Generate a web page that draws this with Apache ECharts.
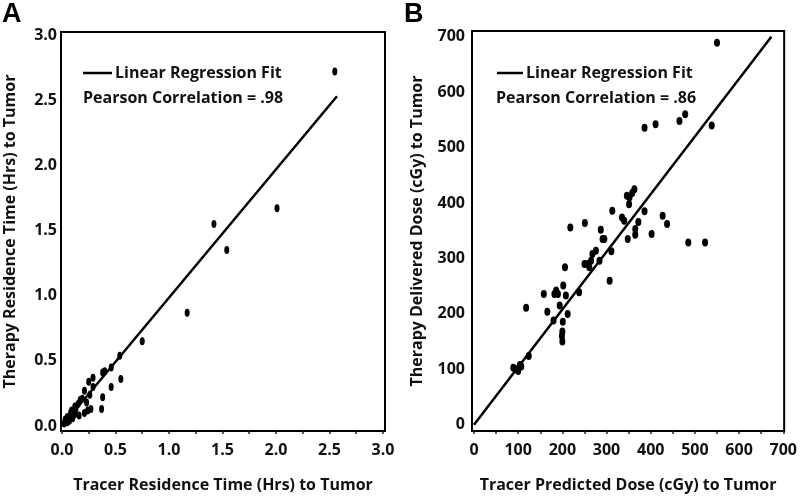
<!DOCTYPE html>
<html>
<head>
<meta charset="utf-8">
<script src="https://cdn.jsdelivr.net/npm/echarts@6/dist/echarts.min.js"></script>
<style>
html,body{margin:0;padding:0;background:#fff;}
#chart{width:800px;height:498px;}
</style>
</head>
<body>
<div id="chart"></div>
<script>
// ---- Panel A data: residence time (Hrs)
const tracerA  = [2.55,2.01,1.42,1.54,1.17,0.75,0.54,0.55,0.46,0.46,0.38,0.38,0.37,0.29,0.25,0.29,0.27,0.24,0.21,0.19,0.17,0.21,0.23,0.15,0.13,0.12,0.16,0.10,0.09,0.07,0.05,0.03,0.02,0.08,0.11,0.26,0.05,0.40,0.12];
const therapyA = [2.72,1.67,1.55,1.35,0.87,0.65,0.54,0.36,0.45,0.30,0.41,0.22,0.13,0.37,0.34,0.30,0.13,0.12,0.27,0.21,0.20,0.10,0.18,0.17,0.13,0.09,0.08,0.06,0.12,0.04,0.03,0.05,0.02,0.10,0.11,0.24,0.07,0.42,0.15];
const fitA_x = [0, 2.57];
const fitA_y = [0, 2.53];
const ticksA = [0,0.5,1.0,1.5,2.0,2.5,3.0];
const minorTicksA = [0,0.25,0.5,0.75,1.0,1.25,1.5,1.75,2.0,2.25,2.5,2.75,3.0];

// ---- Panel B data: dose (cGy)
const tracerB  = [550,538,478,465,411,386,485,523,437,427,402,386,372,363,358,352,346,351,365,365,348,335,340,313,311,307,295,287,291,284,276,268,265,261,257,251,250,218,206,202,208,212,201,194,200,200,199,186,182,180,166,158,238,118,124,107,100,89,96,104,190];
const therapyB = [689,540,560,548,542,536,329,329,362,377,344,385,366,425,418,410,413,398,353,343,335,374,368,386,313,260,335,352,335,296,314,308,296,284,290,364,290,356,284,251,233,200,186,215,168,150,160,242,236,188,204,236,239,211,124,105,97,103,100,108,236];
const fitB_x = [0, 673];
const fitB_y = [0, 700];
const ticksB = [0,100,200,300,400,500,600,700];
const minorTicksB = [0,50,100,150,200,250,300,350,400,450,500,550,600,650,700];

// ---- Text
const titles = {
  a: 'A', b: 'B',
  axA_x: 'Tracer Residence Time (Hrs) to Tumor',
  axA_y: 'Therapy Residence Time (Hrs) to Tumor',
  axB_x: 'Tracer Predicted Dose (cGy) to Tumor',
  axB_y: 'Therapy Delivered Dose (cGy) to Tumor',
  fit: 'Linear Regression Fit',
  corrA: 'Pearson Correlation = .98',
  corrB: 'Pearson Correlation = .86'
};

const FONT = '"Open Sans", "Noto Sans", sans-serif';
const labelStyle = {color:'#111', fontFamily:FONT, fontWeight:700, fontSize:16};
const nameStyle = {color:'#111', fontFamily:FONT, fontWeight:700, fontSize:16};
const LEGFONT = '700 16px "Open Sans", sans-serif';

function zip(xs, ys){ return xs.map((x,i)=>[x, ys[i]]); }

function xAxis(idx, min, max, ticks, minor, fmt, name){
  return {
    type:'value', gridIndex:idx, min:min, max:max, position:'bottom',
    name:name, nameLocation:'middle', nameGap:46, nameTextStyle:nameStyle,
    axisLine:{show:false, onZero:false},
    splitLine:{show:false},
    axisTick:{show:true, customValues:minor, length:3, lineStyle:{color:'#222', width:1.5}},
    axisLabel:{customValues:ticks, formatter:fmt, margin:11, ...labelStyle}
  };
}
function yAxis(idx, min, max, ticks, fmt, name, gap, margin){
  return {
    type:'value', gridIndex:idx, min:min, max:max, position:'left',
    name:name, nameLocation:'middle', nameGap:gap, nameTextStyle:nameStyle,
    axisLine:{show:false, onZero:false},
    splitLine:{show:false},
    axisTick:{show:false},
    axisLabel:{customValues:ticks, formatter:fmt, margin:margin, ...labelStyle}
  };
}

const chart = echarts.init(document.getElementById('chart'), null, {renderer:'canvas'});
chart.setOption({
  animation:false,
  backgroundColor:'#fff',
  grid:[
    {left:61, top:32, width:324, height:401, show:true, borderColor:'#000', borderWidth:2, backgroundColor:'transparent'},
    {left:472, top:31, width:314, height:402, show:true, borderColor:'#000', borderWidth:2, backgroundColor:'transparent'}
  ],
  xAxis:[
    xAxis(0, -0.0093, 3.019, ticksA, minorTicksA, v=>v.toFixed(1), titles.axA_x),
    xAxis(1, -4.5, 702, ticksB, minorTicksB, v=>String(v), titles.axB_x)
  ],
  yAxis:[
    yAxis(0, -0.038, 3.023, ticksA, v=>v.toFixed(1), titles.axA_y, 43, 4),
    yAxis(1, -11.3, 710.4, ticksB, v=>String(v), titles.axB_y, 47, 7)
  ],
  series:[
    {type:'line', xAxisIndex:0, yAxisIndex:0, data:zip(fitA_x, fitA_y), showSymbol:false, symbol:'none',
     lineStyle:{color:'#000', width:2.5}, z:3},
    {type:'scatter', xAxisIndex:0, yAxisIndex:0, data:zip(tracerA, therapyA), symbol:'circle', symbolSize:[5,8],
     itemStyle:{color:'#000', opacity:1}, z:4},
    {type:'line', xAxisIndex:1, yAxisIndex:1, data:zip(fitB_x, fitB_y), showSymbol:false, symbol:'none',
     lineStyle:{color:'#000', width:2.5}, z:3},
    {type:'scatter', xAxisIndex:1, yAxisIndex:1, data:zip(tracerB, therapyB), symbol:'circle', symbolSize:[6,8],
     itemStyle:{color:'#000', opacity:1}, z:4}
  ],
  graphic:[
    {type:'text', left:2, top:1, style:{text:titles.a, font:'bold 27px "Liberation Sans", Arial, sans-serif', fill:'#000'}},
    {type:'text', left:404, top:1, style:{text:titles.b, font:'bold 27px "Liberation Sans", Arial, sans-serif', fill:'#000'}},
    {type:'line', shape:{x1:83, y1:73, x2:112, y2:73}, style:{stroke:'#000', lineWidth:2.5}},
    {type:'text', x:115, y:73, style:{text:titles.fit, font:LEGFONT, fill:'#111', verticalAlign:'middle'}},
    {type:'text', x:83, y:98, style:{text:titles.corrA, font:LEGFONT, fill:'#111', verticalAlign:'middle'}},
    {type:'line', shape:{x1:497, y1:73, x2:523, y2:73}, style:{stroke:'#000', lineWidth:2.5}},
    {type:'text', x:526, y:73, style:{text:titles.fit, font:LEGFONT, fill:'#111', verticalAlign:'middle'}},
    {type:'text', x:496, y:98, style:{text:titles.corrB, font:LEGFONT, fill:'#111', verticalAlign:'middle'}}
  ]
});
</script>
</body>
</html>
